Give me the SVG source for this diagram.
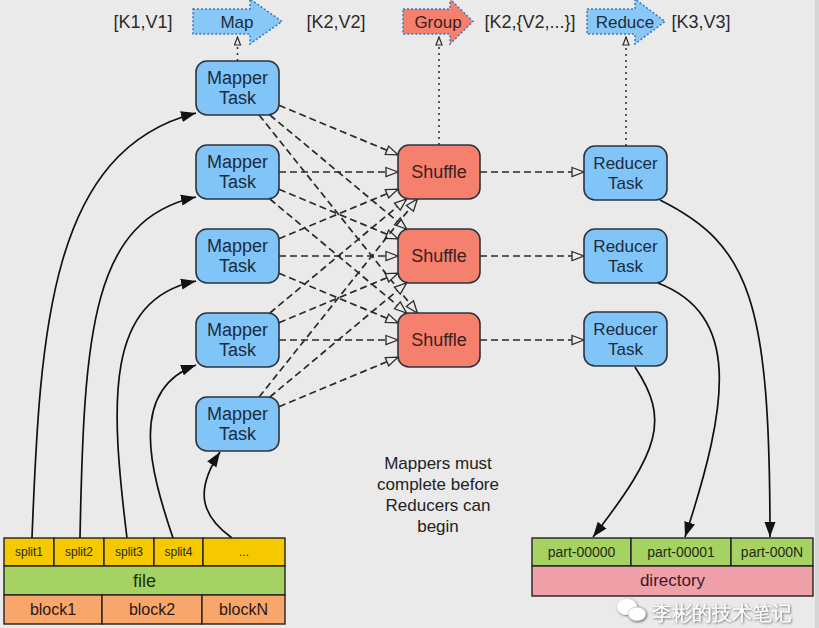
<svg xmlns="http://www.w3.org/2000/svg" width="819" height="628" viewBox="0 0 819 628">
<defs>
<style>
text{font-family:"Liberation Sans",Arial,sans-serif;text-anchor:middle}
.node{stroke:#2b3440;stroke-width:1.6}
.blue{fill:#80c4f8}
.red{fill:#f4806d}
.nt{font-size:18px;fill:#1c2c3c}
.rt{font-size:17px;fill:#1c2c3c}
.st{font-size:18px;fill:#3a2020}
.dash{fill:none;stroke:#2a2a2a;stroke-width:1.7;stroke-dasharray:7,4;marker-end:url(#open)}
.dot{fill:none;stroke:#2a2a2a;stroke-width:1.5;stroke-dasharray:2,4;marker-end:url(#tri)}
.curve{fill:none;stroke:#111;stroke-width:1.7;marker-end:url(#solid)}
.big{stroke:#3a78c0;stroke-width:1.5;stroke-dasharray:2,2}
.lbl{font-size:18px;fill:#2a2a2a}
.cell{stroke:#222;stroke-width:1.4}
</style>
<marker id="open" markerWidth="14" markerHeight="12" refX="13" refY="6" orient="auto" markerUnits="userSpaceOnUse"><path d="M1,1.5 L13,6 L1,10.5 Z" fill="#ececec" stroke="#2a2a2a" stroke-width="1.3"/></marker>
<marker id="tri" markerWidth="10" markerHeight="10" refX="9" refY="4" orient="auto" markerUnits="userSpaceOnUse"><path d="M1,1 L9,4 L1,7 Z" fill="#ececec" stroke="#2a2a2a" stroke-width="1.2"/></marker>
<marker id="solid" markerWidth="16" markerHeight="12" refX="15" refY="6" orient="auto" markerUnits="userSpaceOnUse"><path d="M0,0.5 L15,6 L0,11.5 Z" fill="#111"/></marker>
<filter id="shadow" x="-10%" y="-30%" width="120%" height="160%"><feDropShadow dx="0.8" dy="0.8" stdDeviation="0.8" flood-color="#333" flood-opacity="0.8"/></filter>
</defs>
<rect width="819" height="628" fill="#eaeaea"/>
<rect x="815" y="0" width="4" height="628" fill="#d6d6d6"/>

<g id="top-row">
<text class="lbl" x="143" y="28">[K1,V1]</text>
<g id="map-arrow"><path class="big" d="M193,9 H250 V-1 L282,21.5 L250,44 V34 H193 Z" fill="#88c8f8"/><text x="237" y="28" font-size="17" fill="#1c2c3c">Map</text></g>
<text class="lbl" x="336" y="28">[K2,V2]</text>
<g id="group-arrow"><path class="big" d="M403,9 H450 V-1 L473,21.5 L450,44 V34 H403 Z" fill="#f4806d"/><text x="438" y="28" font-size="17" fill="#3a2020">Group</text></g>
<text class="lbl" x="530" y="28">[K2,{V2,...}]</text>
<g id="reduce-arrow"><path class="big" d="M587,9 H635 V-1 L665,21.5 L635,44 V34 H587 Z" fill="#88c8f8"/><text x="625" y="28" font-size="17" fill="#1c2c3c">Reduce</text></g>
<text class="lbl" x="701" y="28">[K3,V3]</text>
</g>

<g id="connectors">
<path class="dot" d="M237.5,61 V37"/>
<path class="dot" d="M439,145 V37"/>
<path class="dot" d="M626,146 V37"/>

<path class="dash" d="M279,105.3 L398,154.9"/>
<path class="dash" d="M269.9,115 L406.6,229"/>
<path class="dash" d="M259.1,115 L417.4,313"/>
<path class="dash" d="M279,172 L398,172"/>
<path class="dash" d="M279,189.3 L398,238.9"/>
<path class="dash" d="M269.9,199 L406.6,313"/>
<path class="dash" d="M279,238.7 L398,189.1"/>
<path class="dash" d="M279,256 L398,256"/>
<path class="dash" d="M279,273.3 L398,322.9"/>
<path class="dash" d="M269.9,313 L406.6,199"/>
<path class="dash" d="M279,322.7 L398,273.1"/>
<path class="dash" d="M279,340 L398,340"/>
<path class="dash" d="M259.1,397 L417.4,199"/>
<path class="dash" d="M269.9,397 L406.6,283"/>
<path class="dash" d="M279,406.7 L398,357.1"/>

<path class="dash" d="M480,172 L584,172"/>
<path class="dash" d="M480,256 L584,256"/>
<path class="dash" d="M480,340 L584,340"/>

<path class="curve" d="M32,538 C40,330 50,150 196,113"/>
<path class="curve" d="M80,538 C84,330 92,220 196,197"/>
<path class="curve" d="M127,538 C110,400 105,300 196,281"/>
<path class="curve" d="M173,538 C150,470 128,390 196,365"/>
<path class="curve" d="M232,538 C200,515 195,490 220,452"/>

<path class="curve" d="M660,200 C750,245 770,300 770,537"/>
<path class="curve" d="M658,283 C740,315 730,400 685,537"/>
<path class="curve" d="M635,367 C670,420 660,450 593,537"/>
</g>

<g id="mapper1"><rect class="node blue" x="196" y="61" width="83" height="54" rx="11"/><text class="nt" x="237.5" y="84">Mapper</text><text class="nt" x="237.5" y="104">Task</text></g>
<g id="mapper2"><rect class="node blue" x="196" y="145" width="83" height="54" rx="11"/><text class="nt" x="237.5" y="168">Mapper</text><text class="nt" x="237.5" y="188">Task</text></g>
<g id="mapper3"><rect class="node blue" x="196" y="229" width="83" height="54" rx="11"/><text class="nt" x="237.5" y="252">Mapper</text><text class="nt" x="237.5" y="272">Task</text></g>
<g id="mapper4"><rect class="node blue" x="196" y="313" width="83" height="54" rx="11"/><text class="nt" x="237.5" y="336">Mapper</text><text class="nt" x="237.5" y="356">Task</text></g>
<g id="mapper5"><rect class="node blue" x="196" y="397" width="83" height="54" rx="11"/><text class="nt" x="237.5" y="420">Mapper</text><text class="nt" x="237.5" y="440">Task</text></g>

<g id="shuffle1"><rect class="node red" x="398" y="145" width="82" height="54" rx="11"/><text class="st" x="439" y="178">Shuffle</text></g>
<g id="shuffle2"><rect class="node red" x="398" y="229" width="82" height="54" rx="11"/><text class="st" x="439" y="262">Shuffle</text></g>
<g id="shuffle3"><rect class="node red" x="398" y="313" width="82" height="54" rx="11"/><text class="st" x="439" y="346">Shuffle</text></g>

<g id="reducer1"><rect class="node blue" x="584" y="146" width="83" height="54" rx="11"/><text class="rt" x="625.5" y="169">Reducer</text><text class="rt" x="625.5" y="189">Task</text></g>
<g id="reducer2"><rect class="node blue" x="584" y="229" width="83" height="54" rx="11"/><text class="rt" x="625.5" y="252">Reducer</text><text class="rt" x="625.5" y="272">Task</text></g>
<g id="reducer3"><rect class="node blue" x="584" y="312" width="83" height="54" rx="11"/><text class="rt" x="625.5" y="335">Reducer</text><text class="rt" x="625.5" y="355">Task</text></g>

<g id="note">
<text font-size="17" fill="#222" x="438" y="469">Mappers must</text>
<text font-size="17" fill="#222" x="438" y="490">complete before</text>
<text font-size="17" fill="#222" x="438" y="511">Reducers can</text>
<text font-size="17" fill="#222" x="438" y="532">begin</text>
</g>

<g id="input-file">
<rect class="cell" x="4" y="538" width="50" height="28" fill="#f5c800"/>
<rect class="cell" x="54" y="538" width="50" height="28" fill="#f5c800"/>
<rect class="cell" x="104" y="538" width="50" height="28" fill="#f5c800"/>
<rect class="cell" x="154" y="538" width="49" height="28" fill="#f5c800"/>
<rect class="cell" x="203" y="538" width="82" height="28" fill="#f5c800"/>
<text font-size="12" fill="#2a2a10" x="29" y="556">split1</text>
<text font-size="12" fill="#2a2a10" x="79" y="556">split2</text>
<text font-size="12" fill="#2a2a10" x="129" y="556">split3</text>
<text font-size="12" fill="#2a2a10" x="178.5" y="556">split4</text>
<text font-size="12" fill="#2a2a10" x="244" y="556">...</text>
<rect class="cell" x="4" y="566" width="281" height="29" fill="#a6d264"/>
<text font-size="18" fill="#1e2e10" x="144.5" y="587">file</text>
<rect class="cell" x="4" y="595" width="98" height="29" fill="#f9a66c"/>
<rect class="cell" x="102" y="595" width="100" height="29" fill="#f9a66c"/>
<rect class="cell" x="202" y="595" width="83" height="29" fill="#f9a66c"/>
<text font-size="16" fill="#2a1a10" x="53" y="615">block1</text>
<text font-size="16" fill="#2a1a10" x="152" y="615">block2</text>
<text font-size="16" fill="#2a1a10" x="243.5" y="615">blockN</text>
</g>

<g id="output-dir">
<rect class="cell" x="532" y="538" width="99" height="28" fill="#a6d264"/>
<rect class="cell" x="631" y="538" width="100" height="28" fill="#a6d264"/>
<rect class="cell" x="731" y="538" width="82" height="28" fill="#a6d264"/>
<text font-size="14" fill="#1e2e10" x="581.5" y="557">part-00000</text>
<text font-size="14" fill="#1e2e10" x="681" y="557">part-00001</text>
<text font-size="14" fill="#1e2e10" x="772" y="557">part-000N</text>
<rect class="cell" x="532" y="566" width="281" height="30" fill="#f0a0a8"/>
<text font-size="17" fill="#3a1a1e" x="672.5" y="586">directory</text>
</g>

<g id="watermark" filter="url(#shadow)">
<ellipse cx="627" cy="607" rx="10" ry="8" fill="#fff"/>
<ellipse cx="637" cy="614" rx="9" ry="7" fill="#fff" stroke="#aaa" stroke-width="0.6"/>
<text x="722" y="620" font-size="20" fill="#fff" font-family="'Noto Sans CJK SC',sans-serif">李彬的技术笔记</text>
</g>
</svg>
